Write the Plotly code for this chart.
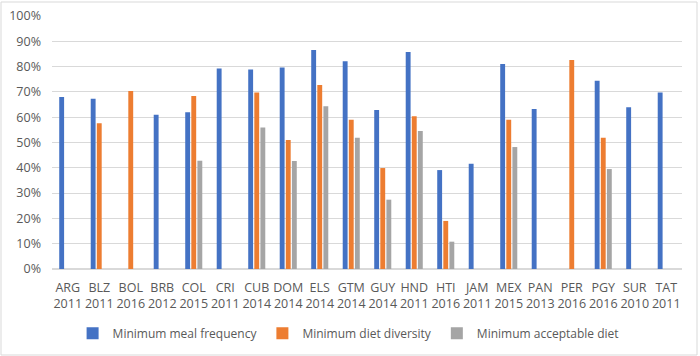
import plotly.graph_objects as go

categories = ["ARG<br>2011", "BLZ<br>2011", "BOL<br>2016", "BRB<br>2012", "COL<br>2015", "CRI<br>2011",
              "CUB<br>2014", "DOM<br>2014", "ELS<br>2014", "GTM<br>2014", "GUY<br>2014", "HND<br>2011",
              "HTI<br>2016", "JAM<br>2011", "MEX<br>2015", "PAN<br>2013", "PER<br>2016", "PGY<br>2016",
              "SUR<br>2010", "TAT<br>2011"]

meal_frequency = [0.68, 0.673, None, 0.61, 0.62, 0.792, 0.789, 0.796, 0.866, 0.821, 0.628, 0.858,
                  0.391, 0.416, 0.81, 0.632, None, 0.744, 0.639, 0.698]
diet_diversity = [None, 0.576, 0.704, None, 0.684, None, 0.698, 0.51, 0.727, 0.59, 0.399, 0.604,
                  0.19, None, 0.59, None, 0.826, 0.519, None, None]
acceptable_diet = [None, None, None, None, 0.428, None, 0.559, 0.427, 0.643, 0.519, 0.274, 0.545,
                   0.108, None, 0.482, None, None, 0.395, None, None]

series_names = ["Minimum meal frequency", "Minimum diet diversity", "Minimum acceptable diet"]
colors = ["#4472C4", "#ED7D31", "#A5A5A5"]

fig = go.Figure()
for name, vals, col in zip(series_names, [meal_frequency, diet_diversity, acceptable_diet], colors):
    fig.add_trace(go.Bar(x=categories, y=vals, name=name, marker_color=col, marker_line_width=0))

fig.update_layout(
    width=700, height=356,
    margin=dict(l=52, r=18, t=16, b=87, autoexpand=False),
    paper_bgcolor="white", plot_bgcolor="white",
    font=dict(family="Open Sans, sans-serif", size=12, color="#595959"),
    barmode="group", bargap=0.42, bargroupgap=0.2,
    showlegend=True,
    legend=dict(orientation="h", x=0.47, xanchor="center", y=-0.197, yanchor="top",
                font=dict(size=12, color="#595959"), itemwidth=30, traceorder="normal"),
    xaxis=dict(showgrid=False, showline=False, ticks="", tickangle=0, automargin=False,
               ticklabelstandoff=9, tickfont=dict(size=12.5, color="#595959")),
    yaxis=dict(range=[0, 1], dtick=0.1, tickformat=".0%", showgrid=True, gridcolor="#D9D9D9",
               gridwidth=1, zeroline=True, zerolinecolor="#D9D9D9", showline=False, ticks="",
               automargin=False, ticklabelstandoff=10,
               tickfont=dict(size=12.5, color="#595959")),
    shapes=[dict(type="rect", xref="paper", yref="paper", x0=-51/630, x1=1 + 15/630,
                 y0=-86/253, y1=1 + 14/253, line=dict(color="#D9D9D9", width=1), layer="below")],
)

fig.write_html("out.html", config={"displayModeBar": False},
               post_script="document.body.style.margin='0';document.body.style.padding='0';")
